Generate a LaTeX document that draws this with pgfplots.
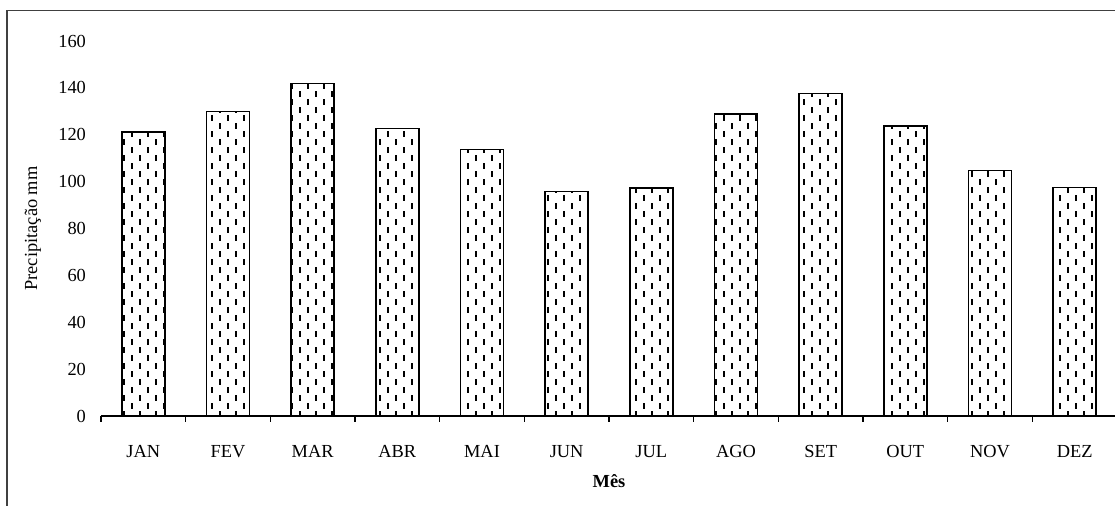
\documentclass[border=0pt]{standalone}
\usepackage{pgfplots}
\pgfplotsset{compat=1.18}
\usepackage{fontspec}
\setmainfont{Liberation Serif}
\usetikzlibrary{patterns}
\pgfdeclarepatternformonly{vdash}{\pgfqpoint{-1pt}{-1pt}}{\pgfqpoint{9pt}{9pt}}{\pgfqpoint{8pt}{8pt}}{%
  \pgfsetlinewidth{1pt}%
  \pgfpathmoveto{\pgfqpoint{2pt}{0.7pt}}\pgfpathlineto{\pgfqpoint{2pt}{3.3pt}}%
  \pgfpathmoveto{\pgfqpoint{6pt}{4.7pt}}\pgfpathlineto{\pgfqpoint{6pt}{7.3pt}}%
  \pgfusepath{stroke}}
\begin{document}
\begin{tikzpicture}
\useasboundingbox (0,0) rectangle (557.5pt,253pt);
\draw[line width=0.9pt, black!75] (3.5pt,-10pt) -- (3.5pt,247.75pt) -- (600pt,247.75pt);
\begin{axis}[
  at={(50.5pt,45pt)}, anchor=south west,
  scale only axis, width=508pt, height=187.5pt,
  xmin=-0.5, xmax=11.5, ymin=0, ymax=160,
  axis lines*=left,
  y axis line style={draw=none},
  x axis line style={line width=0.6pt},
  ytick={0,20,...,160},
  xtick={0,...,11},
  xticklabels={JAN,FEV,MAR,ABR,MAI,JUN,JUL,AGO,SET,OUT,NOV,DEZ},
  minor xtick={-0.5,0.5,...,11.5},
  major tick length=0pt, minor tick length=3pt,
  tick align=outside,
  minor tick style={line width=0.6pt, black},
  tick label style={font=\fontsize{9.2}{10}\selectfont},
  /pgf/number format/assume math mode=true,
  xticklabel style={yshift=-11pt},
  yticklabel style={xshift=-4pt},
  every axis y label/.style={at={([xshift=-34pt]axis description cs:0,0.5)}, rotate=90, anchor=center, font=\fontsize{9.2}{10}\selectfont},
  every axis x label/.style={at={([yshift=-32.5pt]axis description cs:0.5,0)}, anchor=center, font=\fontsize{9.2}{10}\selectfont\bfseries},
  xlabel={Mês},
  ylabel={Precipitação mm},
  clip=false,
]
\addplot[ybar, bar width=21.5pt, draw=black, line width=0.7pt, pattern=vdash, pattern color=black]
 coordinates {(0,121.2) (1,129.8) (2,141.8) (3,122.6) (4,113.8) (5,95.9) (6,97.3) (7,128.8) (8,137.7) (9,123.7) (10,104.7) (11,97.4)};
\end{axis}
\end{tikzpicture}
\end{document}
